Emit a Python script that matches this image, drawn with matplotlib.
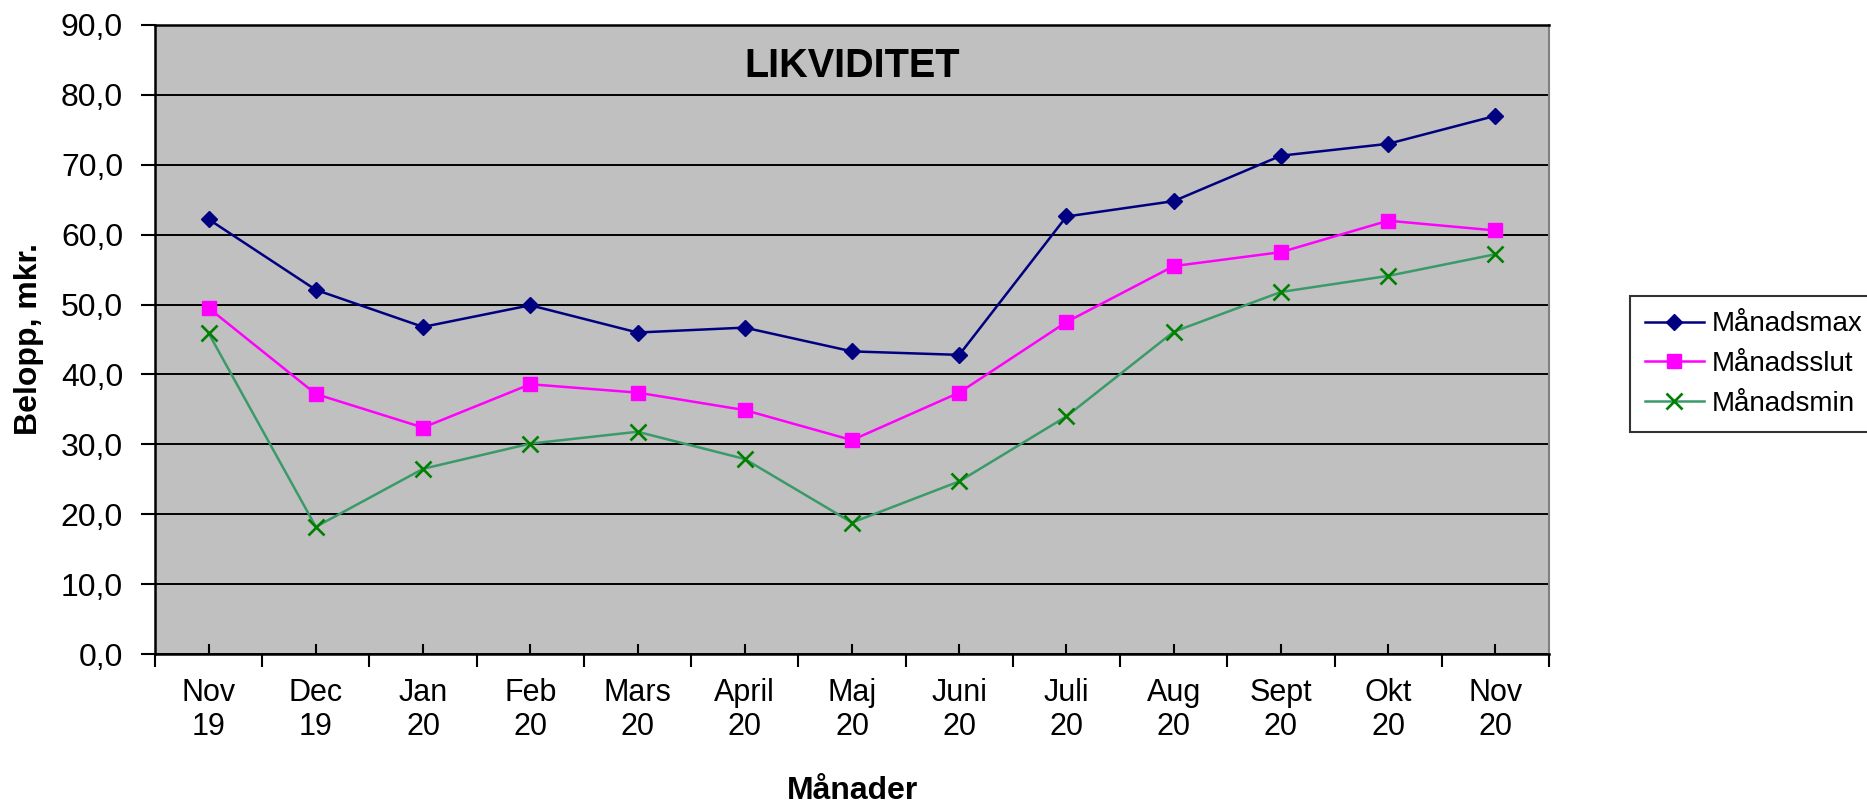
import matplotlib
matplotlib.use("Agg")
import matplotlib.pyplot as plt
from matplotlib.ticker import FixedLocator, NullFormatter, FuncFormatter
import numpy as np

plt.rcParams['font.family'] = ['Liberation Sans', 'DejaVu Sans']

months = ["Nov\n19", "Dec\n19", "Jan\n20", "Feb\n20", "Mars\n20", "April\n20", "Maj\n20",
          "Juni\n20", "Juli\n20", "Aug\n20", "Sept\n20", "Okt\n20", "Nov\n20"]
manadsmax = [62.2, 52.1, 46.8, 49.9, 46.0, 46.7, 43.3, 42.8, 62.6, 64.8, 71.3, 73.0, 77.0]
manadsslut = [49.5, 37.2, 32.4, 38.6, 37.4, 34.9, 30.6, 37.4, 47.5, 55.5, 57.5, 62.0, 60.6]
manadsmin = [45.9, 18.2, 26.5, 30.1, 31.8, 27.9, 18.8, 24.7, 34.0, 46.1, 51.8, 54.1, 57.2]
yticks = [0, 10, 20, 30, 40, 50, 60, 70, 80, 90]

W, H = 1867, 806
fig = plt.figure(figsize=(W / 100, H / 100), dpi=100)
left, right, top, bottom = 155, 1549, 25, 654
ax = fig.add_axes([left / W, 1 - bottom / H, (right - left) / W, (bottom - top) / H])
ax.set_facecolor('#C0C0C0')

x = np.arange(len(months))
ax.plot(x, manadsmax, color='#000080', lw=1.8, marker='D', ms=8.5, mfc='#000080', mec='#000080',
        label='Månadsmax', zorder=3)
ax.plot(x, manadsslut, color='#FF00FF', lw=1.8, marker='s', ms=10, mfc='#FF00FF', mec='#FF00FF',
        label='Månadsslut', zorder=3)
ax.plot(x, manadsmin, color='#3A9A6A', lw=1.8, marker='x', ms=11, mew=1.9, mec='#008000',
        label='Månadsmin', zorder=3)

ax.set_xlim(-0.5, len(months) - 0.5)
ax.set_ylim(0, 90)
ax.set_yticks(yticks)
ax.yaxis.set_major_formatter(FuncFormatter(lambda v, p: f"{v:.1f}".replace('.', ',')))
ax.yaxis.grid(True, color='black', lw=1.4)
ax.set_axisbelow(True)

ax.xaxis.set_major_locator(FixedLocator(np.arange(-0.5, len(months), 1.0)))
ax.xaxis.set_major_formatter(NullFormatter())
ax.xaxis.set_minor_locator(FixedLocator(x))
ax.set_xticklabels(months, minor=True)
ax.tick_params(axis='x', which='major', direction='out', length=9, width=1.5, color='black')
ax.tick_params(axis='x', which='minor', direction='in', length=7.5, width=1.5, color='black',
               labelsize=22, pad=17)
ax.tick_params(axis='y', which='major', direction='out', length=10, width=1.5, labelsize=23, pad=13)

for s in ['left', 'bottom', 'top']:
    ax.spines[s].set_color('black')
    ax.spines[s].set_linewidth(1.8)
ax.spines['right'].set_color('#808080')
ax.spines['right'].set_linewidth(1.5)

ax.text(0.5, 1 - (66 - top) / (bottom - top), "LIKVIDITET", transform=ax.transAxes,
        ha='center', va='center', fontsize=28.5, fontweight='bold')

fig.text((left + right) / 2 / W, 1 - 791 / H, "Månader", ha='center', va='center',
         fontsize=23, fontweight='bold')
fig.text(29 / W, 1 - (top + bottom) / 2 / H, "Belopp, mkr.", ha='center', va='center',
         rotation=90, fontsize=23, fontweight='bold')

leg = fig.legend(loc='upper left', bbox_to_anchor=(1630 / W, 1 - 296 / H),
                 bbox_transform=fig.transFigure, borderaxespad=0, fontsize=20,
                 frameon=True, fancybox=False, edgecolor='black', handlelength=2.1,
                 handletextpad=0.3, labelspacing=0.5, borderpad=0.55)
leg.get_frame().set_linewidth(1.5)

fig.savefig("out.png", dpi=100, facecolor='white')
